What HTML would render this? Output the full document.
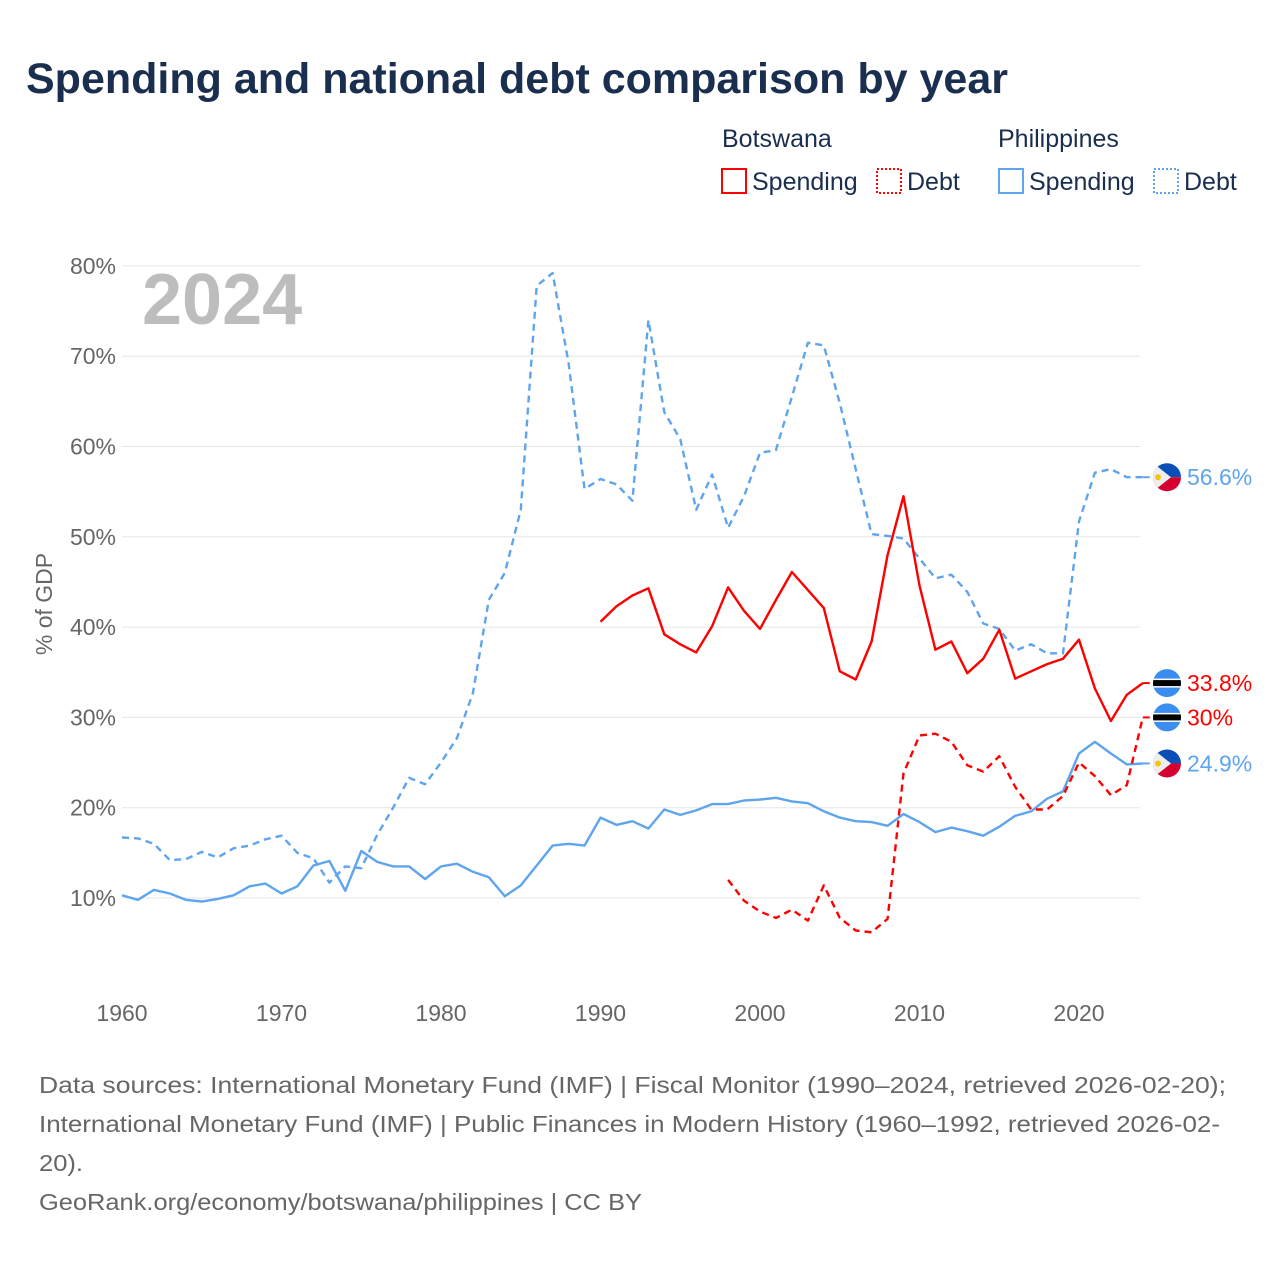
<!DOCTYPE html>
<html><head><meta charset="utf-8"><style>
body{margin:0;background:#fff;width:1280px;height:1280px;overflow:hidden;font-family:"Liberation Sans",sans-serif}
</style></head><body>
<svg id="chart" width="1280" height="1280" xmlns="http://www.w3.org/2000/svg">
<text x="26" y="93" font-size="43" font-weight="bold" fill="#1a2e4f">Spending and national debt comparison by year</text>
<g font-size="25" fill="#1a2e4f">
<text x="722" y="147">Botswana</text>
<text x="998" y="147">Philippines</text>
<rect x="722" y="169" width="24" height="24" fill="none" stroke="#f00" stroke-width="2"/>
<text x="752" y="190">Spending</text>
<rect x="877" y="169" width="24" height="24" fill="none" stroke="#f00" stroke-width="2" stroke-dasharray="2 2"/>
<text x="907" y="190">Debt</text>
<rect x="999" y="169" width="24" height="24" fill="none" stroke="#5ea5ee" stroke-width="2"/>
<text x="1029" y="190">Spending</text>
<rect x="1154" y="169" width="24" height="24" fill="none" stroke="#5ea5ee" stroke-width="2" stroke-dasharray="2 2"/>
<text x="1184" y="190">Debt</text>
</g>
<g id="grid"></g>
<text x="142" y="324" font-size="72" font-weight="bold" fill="#bdbdbd">2024</text>
<text transform="translate(52,604) rotate(-90)" text-anchor="middle" font-size="23" fill="#666">% of GDP</text>
<g id="series"></g>
<g id="ends"></g>
<g font-size="23" fill="#666">
<text x="39" y="1093" textLength="1187" lengthAdjust="spacingAndGlyphs">Data sources: International Monetary Fund (IMF) | Fiscal Monitor (1990–2024, retrieved 2026-02-20);</text>
<text x="39" y="1132" textLength="1181" lengthAdjust="spacingAndGlyphs">International Monetary Fund (IMF) | Public Finances in Modern History (1960–1992, retrieved 2026-02-</text>
<text x="39" y="1171" textLength="44" lengthAdjust="spacingAndGlyphs">20).</text>
<text x="39" y="1210" textLength="603" lengthAdjust="spacingAndGlyphs">GeoRank.org/economy/botswana/philippines | CC BY</text>
</g>
</svg>
<script>
const yTicks=[10,20,30,40,50,60,70,80];
const xTicks=[1960,1970,1980,1990,2000,2010,2020];
const phlSpendStart=1960;
const phlSpending=[10.3,9.8,10.9,10.5,9.8,9.6,9.9,10.3,11.3,11.6,10.5,11.3,13.6,14.1,10.8,15.2,14.0,13.5,13.5,12.1,13.5,13.8,12.9,12.3,10.2,11.4,13.6,15.8,16.0,15.8,18.9,18.1,18.5,17.7,19.8,19.2,19.7,20.4,20.4,20.8,20.9,21.1,20.7,20.5,19.6,18.9,18.5,18.4,18.0,19.3,18.4,17.3,17.8,17.4,16.9,17.9,19.1,19.6,21.0,21.8,26.0,27.3,26.0,24.8,24.9];
const phlDebtStart=1960;
const phlDebt=[16.7,16.6,16.0,14.2,14.3,15.1,14.5,15.5,15.8,16.5,16.9,15.0,14.4,11.7,13.5,13.3,17.0,20.0,23.3,22.6,25.0,27.7,32.7,43.0,46.0,53.0,77.8,79.2,69.2,55.3,56.4,55.8,54.0,74.0,63.8,60.8,53.0,56.9,51.0,54.5,59.3,59.6,65.5,71.5,71.2,64.8,57.5,50.3,50.1,49.8,47.6,45.4,45.8,43.9,40.4,39.8,37.4,38.1,37.1,37.1,51.7,57.1,57.5,56.6,56.6];
const bwaSpendStart=1990;
const bwaSpending=[40.6,42.3,43.5,44.3,39.2,38.1,37.2,40.1,44.4,41.8,39.8,43.0,46.1,44.1,42.1,35.1,34.2,38.4,48.0,54.5,44.6,37.5,38.4,34.9,36.5,39.7,34.3,35.1,35.9,36.5,38.6,33.2,29.6,32.5,33.8];
const bwaDebtStart=1998;
const bwaDebt=[12.0,9.7,8.5,7.8,8.7,7.5,11.4,7.8,6.4,6.2,7.7,23.8,28.0,28.2,27.3,24.7,24.0,25.7,22.3,19.8,19.8,21.3,25.0,23.5,21.4,22.5,30.0];
const NS='http://www.w3.org/2000/svg';
const X=y=>122+(y-1960)*15.95;
const Y=v=>898-(v-10)*9.03;
function mk(t,a,p){const e=document.createElementNS(NS,t);for(const k in a)e.setAttribute(k,a[k]);p.appendChild(e);return e;}
const grid=document.getElementById('grid');
yTicks.forEach(v=>{
 const l=mk('line',{x1:122,x2:1140,y1:Y(v),y2:Y(v),stroke:'#e6e6e6','stroke-width':1},grid);
 
 
 const t=mk('text',{x:116,y:Y(v)+8,'text-anchor':'end','font-size':23,fill:'#666'},grid);
 t.textContent=v+'%';
 
 
});
xTicks.forEach(yr=>{
 const t=mk('text',{x:X(yr),y:1021,'text-anchor':'middle','font-size':23,fill:'#666'},grid);
 t.textContent=yr;
 
 
});
const series=document.getElementById('series');
function line(vals,start,color,dash,name){
 const d=vals.map((v,i)=>(i?'L':'M')+X(start+i).toFixed(1)+' '+Y(v).toFixed(1)).join(' ');
 const p=mk('path',{d:d,fill:'none',stroke:color,'stroke-width':2.4,'stroke-linejoin':'round'},series);
 if(dash)p.setAttribute('stroke-dasharray','7 5');
 
 
}
line(phlDebt,phlDebtStart,'#5ea5ee',true,'philippines-debt-line');
line(phlSpending,phlSpendStart,'#5ea5ee',false,'philippines-spending-line');
line(bwaSpending,bwaSpendStart,'#f00',false,'botswana-spending-line');
line(bwaDebt,bwaDebtStart,'#f00',true,'botswana-debt-line');
const ends=document.getElementById('ends');
function endLabel(vals,start,color,flag,name){
 const v=vals[vals.length-1];const y=Y(v);
 const lx=X(start+vals.length-1);
 const c=mk('line',{x1:lx,x2:1152,y1:y,y2:y,stroke:color,'stroke-width':2,'stroke-dasharray':'7 5'},ends);
 
 
 const g=mk('g',{transform:'translate(1167,'+y+')'},ends);
 
 
 const cp=mk('clipPath',{id:'cp'+name},g);mk('circle',{r:14},cp);
 const h=mk('g',{'clip-path':'url(#cp'+name+')'},g);
 if(flag==='bw'){
  mk('rect',{x:-15,y:-15,width:30,height:30,fill:'#3b8ef0'},h);
  mk('rect',{x:-15,y:-4.5,width:30,height:9,fill:'#fff'},h);
  mk('rect',{x:-15,y:-3,width:30,height:6,fill:'#000'},h);
 }else{
  mk('rect',{x:-15,y:-15,width:30,height:15,fill:'#0a4fb8'},h);
  mk('rect',{x:-15,y:0,width:30,height:15,fill:'#d60030'},h);
  mk('path',{d:'M-15 -15 L4 0 L-15 15Z',fill:'#eee'},h);
  mk('circle',{cx:-9,cy:0,r:3,fill:'#f6c40c'},h);
 }
 const t=mk('text',{x:1187,y:y+8,'font-size':23,fill:color},ends);
 t.textContent=(Math.round(v*10)/10)+'%';
 
 
}
endLabel(phlDebt,phlDebtStart,'#5ea5ee','ph','philippines-debt-end');
endLabel(bwaSpending,bwaSpendStart,'#f00','bw','botswana-spending-end');
endLabel(bwaDebt,bwaDebtStart,'#f00','bw','botswana-debt-end');
endLabel(phlSpending,phlSpendStart,'#5ea5ee','ph','philippines-spending-end');
</script>
</body></html>
